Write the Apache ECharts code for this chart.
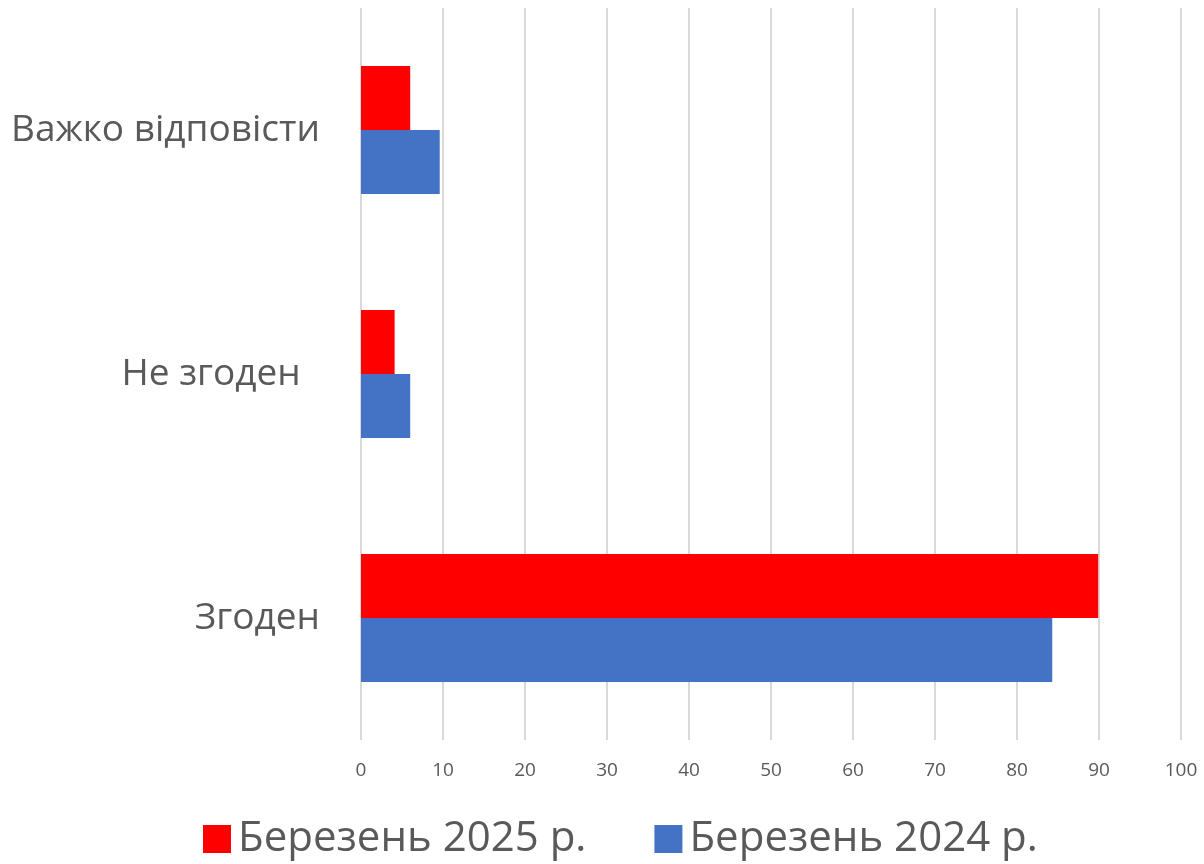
<!DOCTYPE html>
<html>
<head>
<meta charset="utf-8">
<script src="https://cdn.jsdelivr.net/npm/echarts@6/dist/echarts.min.js"></script>
<style>
html,body{margin:0;padding:0;background:#fff;}
#chart{width:1204px;height:864px;}
</style>
</head>
<body>
<div id="chart"></div>
<script>
const categories = ['Згоден', 'Не згоден  ', 'Важко відповісти'];
const seriesNames = ['Березень 2025 р.', 'Березень 2024 р.'];
const values2025 = [89.9, 4.1, 6.0];
const values2024 = [84.3, 6.0, 9.6];
const xTicks = [0, 10, 20, 30, 40, 50, 60, 70, 80, 90, 100];

const FONT = '"Open Sans", "Noto Sans", sans-serif';
const chart = echarts.init(document.getElementById('chart'), null, {renderer: 'canvas'});
chart.setOption({
  animation: false,
  backgroundColor: '#ffffff',
  grid: {left: 361, right: 23, top: 8, bottom: 124, containLabel: false},
  legend: {
    data: seriesNames,
    left: 198,
    top: 813,
    itemWidth: 28,
    itemHeight: 28,
    itemGap: 68,
    icon: 'rect',
    textStyle: {fontFamily: FONT, fontSize: 42, color: '#595959', padding: [0,0,0,2]}
  },
  xAxis: {
    type: 'value',
    min: xTicks[0],
    max: xTicks[xTicks.length - 1],
    interval: 10,
    axisLine: {show: false},
    axisTick: {show: false},
    axisLabel: {fontFamily: FONT, fontSize: 19, color: '#595959', margin: 21},
    splitLine: {show: true, lineStyle: {color: '#d9d9d9', width: 2}}
  },
  yAxis: {
    type: 'category',
    data: categories,
    axisLine: {show: false},
    axisTick: {show: false},
    axisLabel: {fontFamily: FONT, fontSize: 37, color: '#595959', margin: 41}
  },
  series: [
    {
      name: seriesNames[0],
      type: 'bar',
      data: values2025,
      barWidth: 64,
      barGap: '0%',
      itemStyle: {color: '#ff0000'}
    },
    {
      name: seriesNames[1],
      type: 'bar',
      data: values2024,
      barWidth: 64,
      barGap: '0%',
      itemStyle: {color: '#4472c4'}
    }
  ]
});
</script>
</body>
</html>
